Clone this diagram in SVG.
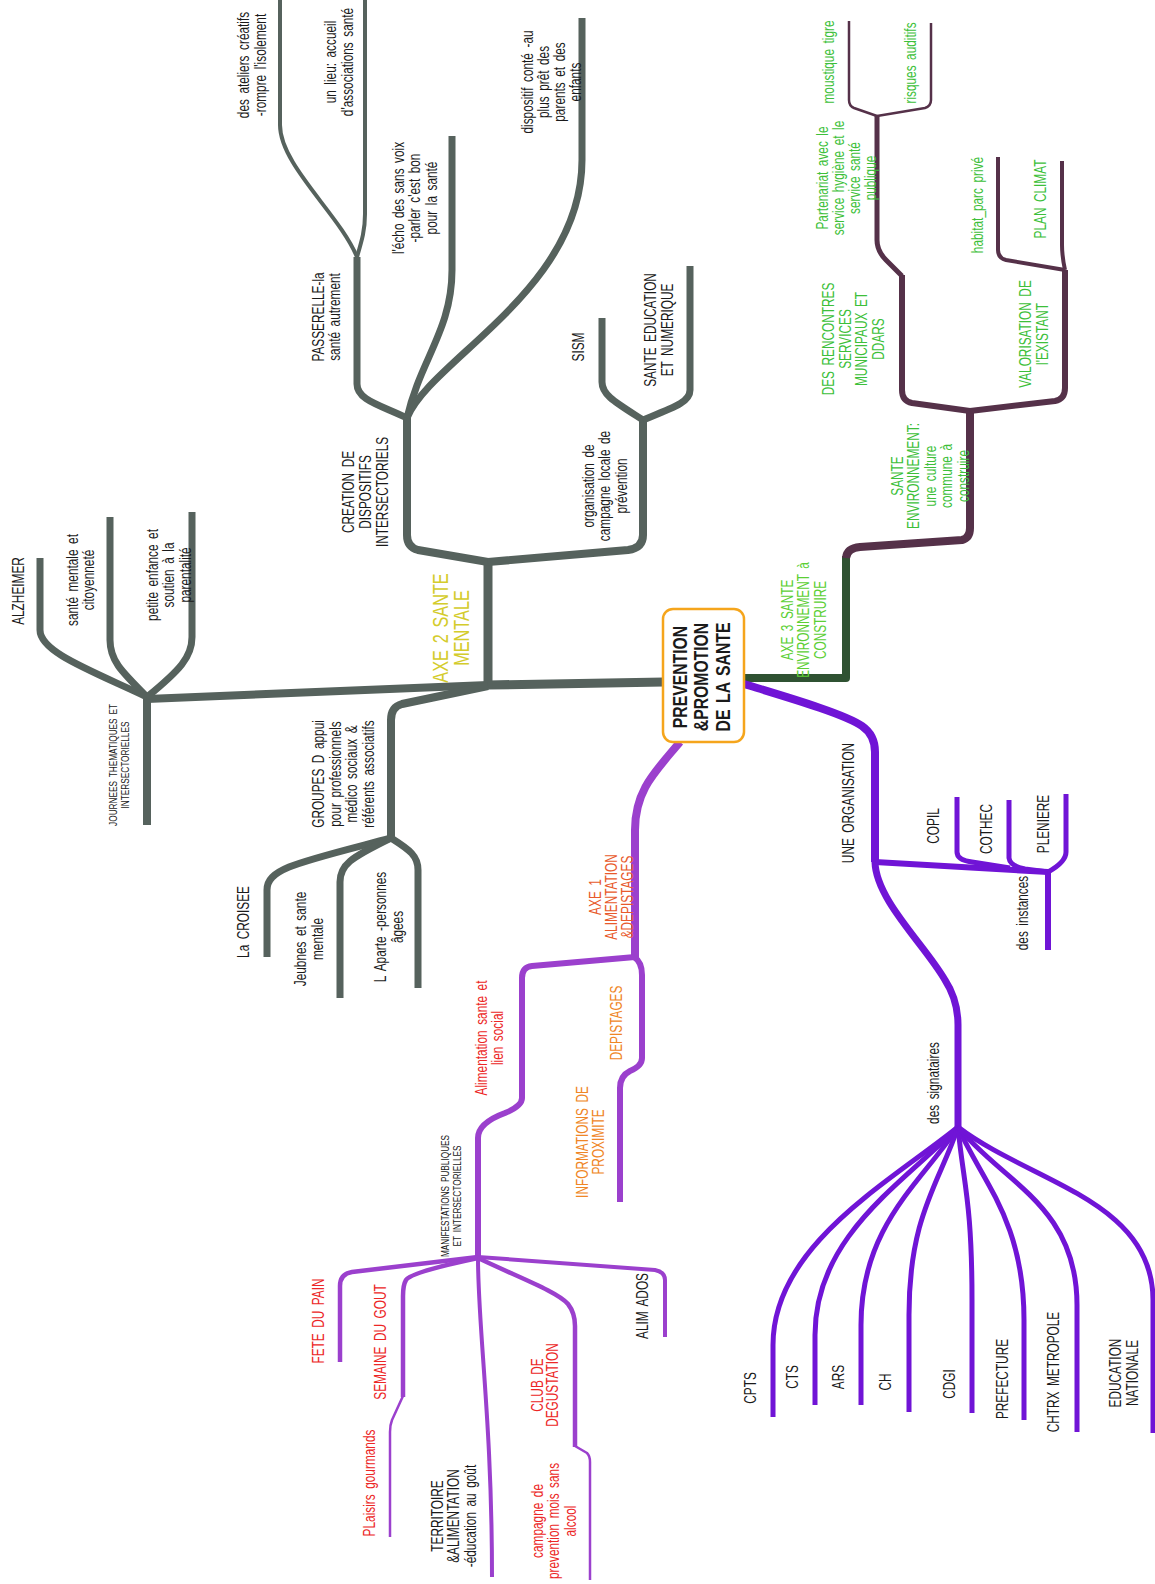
<svg xmlns="http://www.w3.org/2000/svg" width="1155" height="1584" viewBox="0 0 1155 1584">
<style>
.c{fill:none;stroke-linecap:butt;stroke-linejoin:round}
.gr{stroke:#56625d}.p1{stroke:#9b40cd}.p2{stroke:#7014d6}.mr{stroke:#553149}.dg{stroke:#2f5232}
.t{font-family:"Liberation Sans",Arial,sans-serif;font-size:16px;text-anchor:middle;word-spacing:3px}
.k{fill:#1a1a1a}.y{fill:#d4cc2c}.gn{fill:#3dbf3a}.lg{fill:#5ccf35}.r{fill:#ec2626}.o{fill:#ef8626}.or{fill:#e85a2c}
.s{font-size:11px;word-spacing:2px}.b{font-weight:bold;font-size:21px;word-spacing:3px}.a{font-size:22px}
</style>
<rect width="1155" height="1584" fill="#ffffff"/>
<g id="connectors">
<path class="c gr" stroke-width="9" d="M664,682 L488,685"/>
<path class="c gr" stroke-width="8" d="M488,685 L147,699"/>
<path class="c gr" stroke-width="9" d="M488,688 L488,558"/>
<path class="c gr" stroke-width="8" d="M488,562 L418,550 Q407,547 407,535 L407,418"/>
<path class="c gr" stroke-width="8" d="M488,562 L628,550 Q643,548 643,535 L643,420"/>
<path class="c gr" stroke-width="8" d="M488,686 L402,704 Q391,707 391,720 L391,838"/>
<path class="c gr" stroke-width="7" d="M391,838 C300,862 267,868 267,890 L267,957"/>
<path class="c gr" stroke-width="7" d="M391,838 C350,858 340,865 340,882 L340,998"/>
<path class="c gr" stroke-width="7" d="M391,838 C410,850 418,856 418,870 L418,988"/>
<path class="c gr" stroke-width="8" d="M147,697 L147,825"/>
<path class="c gr" stroke-width="7" d="M147,697 C90,670 40,652 40,630 L40,558"/>
<path class="c gr" stroke-width="7" d="M147,697 C120,670 110,660 110,640 L110,517"/>
<path class="c gr" stroke-width="7" d="M147,697 C180,670 192,657 192,637 L192,512"/>
<path class="c gr" stroke-width="7" d="M407,418 C380,405 357,400 357,384 L357,257"/>
<path class="c gr" stroke-width="4" d="M357,257 C340,215 280,165 280,125 L280,0"/>
<path class="c gr" stroke-width="4" d="M357,257 C362,240 365,230 365,214 L365,0"/>
<path class="c gr" stroke-width="7" d="M407,418 C420,360 452,330 452,270 L452,136"/>
<path class="c gr" stroke-width="7" d="M407,418 C430,360 582,290 582,160 L582,18"/>
<path class="c gr" stroke-width="7" d="M643,420 C615,402 602,395 602,382 L602,318"/>
<path class="c gr" stroke-width="7" d="M643,420 C675,407 690,402 690,390 L690,266"/>
<path class="c dg" stroke-width="8" stroke-linejoin="miter" d="M744,678 L846,678 L846,556"/>
<path class="c mr" stroke-width="8" d="M846,558 Q847,548 860,547 L962,540 Q970,538 970,528 L970,411"/>
<path class="c mr" stroke-width="6" d="M970,411 L912,403 Q902,401 902,390 L902,275"/>
<path class="c mr" stroke-width="6" d="M970,411 L1055,401 Q1065,399 1065,388 L1065,270"/>
<path class="c mr" stroke-width="5" d="M902,276 L886,260 Q877,251 877,240 L877,116"/>
<path class="c mr" stroke-width="2.5" d="M877,116 L854,108 Q849,106 849,100 L849,21"/>
<path class="c mr" stroke-width="2.5" d="M877,116 L925,108 Q931,106 931,100 L931,23"/>
<path class="c mr" stroke-width="4" d="M1065,270 L1006,260 Q998,258 998,250 L998,157"/>
<path class="c mr" stroke-width="4" d="M1065,270 Q1062,256 1062,245 L1062,161"/>
<path class="c p2" stroke-width="8" d="M744,684 C790,698 845,714 862,726 Q875,735 875,752 L875,862"/>
<path class="c p2" stroke-width="6" d="M875,862 L1048,872"/>
<path class="c p2" stroke-width="6" d="M1048,870 L1048,950"/>
<path class="c p2" stroke-width="5" d="M957,797 L957,852 Q957,860 972,862 L1010,868"/>
<path class="c p2" stroke-width="5" d="M1009,800 L1009,858 Q1010,866 1025,869 L1048,872"/>
<path class="c p2" stroke-width="5" d="M1066,794 L1066,852 Q1066,862 1048,872"/>
<path class="c p2" stroke-width="7" d="M875,862 C876,900 925,945 945,980 Q958,1000 958,1025 L958,1128"/>
<path class="c p2" stroke-width="5" d="M958,1127 C890,1182 773,1245 773,1345 L773,1417"/>
<path class="c p2" stroke-width="5" d="M958,1127 C905,1182 815,1235 815,1335 L815,1405"/>
<path class="c p2" stroke-width="5" d="M958,1127 C922,1182 861,1225 861,1325 L861,1405"/>
<path class="c p2" stroke-width="5" d="M958,1127 C940,1182 909,1215 909,1315 L909,1412"/>
<path class="c p2" stroke-width="5" d="M958,1127 C963,1182 972,1200 972,1300 L972,1413"/>
<path class="c p2" stroke-width="5" d="M958,1127 C982,1182 1024,1220 1024,1320 L1024,1420"/>
<path class="c p2" stroke-width="5" d="M958,1127 C1002,1182 1077,1205 1077,1305 L1077,1432"/>
<path class="c p2" stroke-width="5" d="M958,1127 C1030,1182 1153,1200 1153,1300 L1153,1433"/>
<path class="c p1" stroke-width="8" d="M680,742 C655,772 635,790 635,830 L635,958"/>
<path class="c p1" stroke-width="6" d="M635,957 L532,966 Q522,967 522,978 L522,1098 Q522,1106 505,1113 Q478,1123 478,1138 L478,1258"/>
<path class="c p1" stroke-width="6" d="M634,957 Q642,962 642,975 L642,1058 Q642,1066 630,1071 Q620,1076 620,1088 L620,1202"/>
<path class="c p1" stroke-width="4.5" d="M478,1257 L352,1272 Q340,1274 340,1286 L340,1362"/>
<path class="c p1" stroke-width="4.5" d="M478,1258 C440,1266 410,1274 406,1280 Q403,1285 403,1296 L403,1397"/>
<path class="c p1" stroke-width="2.5" d="M403,1396 L392,1420 Q390,1425 390,1432 L390,1537"/>
<path class="c p1" stroke-width="4" d="M478,1258 C478,1330 492,1420 492,1577"/>
<path class="c p1" stroke-width="4.5" d="M478,1258 C520,1278 558,1292 568,1304 Q575,1313 575,1326 L575,1447"/>
<path class="c p1" stroke-width="2.5" d="M575,1446 L587,1453 Q590,1456 590,1462 L590,1580"/>
<path class="c p1" stroke-width="4" d="M478,1257 L655,1270 Q665,1272 665,1280 L665,1337"/>
</g>
<g id="center">
<rect x="663" y="609" width="81" height="133" rx="10" fill="#ffffff" stroke="#f5a51c" stroke-width="2.5"/>
<g transform="translate(687,677) rotate(-90) scale(0.75,1)"><text class="t b k"><tspan x="0" y="0">PREVENTION</tspan><tspan x="0" dy="21.5">&amp;PROMOTION</tspan><tspan x="0" dy="21.5">DE LA SANTE</tspan></text></g>
</g>
<g id="axe2"><g transform="translate(448,628) rotate(-90) scale(0.74,1)"><text class="t a y"><tspan x="0" y="0">AXE 2 SANTE</tspan><tspan x="0" dy="21">MENTALE</tspan></text></g></g>
<g id="ateliers"><g transform="translate(249,65) rotate(-90) scale(0.74,1)"><text class="t k"><tspan x="0" y="0">des ateliers créatifs</tspan><tspan x="0" dy="17">-rompre l'isolement</tspan></text></g></g>
<g id="unlieu"><g transform="translate(336,62) rotate(-90) scale(0.74,1)"><text class="t k"><tspan x="0" y="0">un lieu: accueil</tspan><tspan x="0" dy="17">d'associations santé</tspan></text></g></g>
<g id="passerelle"><g transform="translate(324,317) rotate(-90) scale(0.74,1)"><text class="t k"><tspan x="0" y="0">PASSERELLE-la</tspan><tspan x="0" dy="16">santé autrement</tspan></text></g></g>
<g id="echo"><g transform="translate(404,198) rotate(-90) scale(0.74,1)"><text class="t k"><tspan x="0" y="0">l'écho des sans voix</tspan><tspan x="0" dy="16.5">-parler c'est bon</tspan><tspan x="0" dy="16.5">pour la santé</tspan></text></g></g>
<g id="dispositif"><g transform="translate(533,82) rotate(-90) scale(0.74,1)"><text class="t k"><tspan x="0" y="0">dispositif conté -au</tspan><tspan x="0" dy="16">plus prêt des</tspan><tspan x="0" dy="16">parents et des</tspan><tspan x="0" dy="16">enfants</tspan></text></g></g>
<g id="creation"><g transform="translate(354,492) rotate(-90) scale(0.74,1)"><text class="t k"><tspan x="0" y="0">CREATION DE</tspan><tspan x="0" dy="17">DISPOSITIFS</tspan><tspan x="0" dy="17">INTERSECTORIELS</tspan></text></g></g>
<g id="sism"><g transform="translate(584,347) rotate(-90) scale(0.74,1)"><text class="t k"><tspan x="0" y="0">SISM</tspan></text></g></g>
<g id="santeedu"><g transform="translate(656,330) rotate(-90) scale(0.74,1)"><text class="t k"><tspan x="0" y="0">SANTE EDUCATION</tspan><tspan x="0" dy="17">ET NUMERIQUE</tspan></text></g></g>
<g id="organisation-campagne"><g transform="translate(594,486) rotate(-90) scale(0.74,1)"><text class="t k"><tspan x="0" y="0">organisation de</tspan><tspan x="0" dy="16.5">campagne locale de</tspan><tspan x="0" dy="16.5">prévention</tspan></text></g></g>
<g id="alzheimer"><g transform="translate(24,591) rotate(-90) scale(0.74,1)"><text class="t k"><tspan x="0" y="0">ALZHEIMER</tspan></text></g></g>
<g id="citoyennete"><g transform="translate(78,580) rotate(-90) scale(0.74,1)"><text class="t k"><tspan x="0" y="0">santé mentale et</tspan><tspan x="0" dy="16.5">citoyenneté</tspan></text></g></g>
<g id="petiteenfance"><g transform="translate(158,575) rotate(-90) scale(0.74,1)"><text class="t k"><tspan x="0" y="0">petite enfance et</tspan><tspan x="0" dy="16.5">soutien à la</tspan><tspan x="0" dy="16.5">parentalité</tspan></text></g></g>
<g id="journees"><g transform="translate(117,765) rotate(-90) scale(0.75,1)"><text class="t s k"><tspan x="0" y="0">JOURNEES THEMATIQUES ET</tspan><tspan x="0" dy="12">INTERSECTORIELLES</tspan></text></g></g>
<g id="groupes"><g transform="translate(324,774) rotate(-90) scale(0.74,1)"><text class="t k"><tspan x="0" y="0">GROUPES D appui</tspan><tspan x="0" dy="16.7">pour professionnels</tspan><tspan x="0" dy="16.7">médico sociaux &amp;</tspan><tspan x="0" dy="16.7">référents associatifs</tspan></text></g></g>
<g id="croisee"><g transform="translate(249,922) rotate(-90) scale(0.74,1)"><text class="t k"><tspan x="0" y="0">La CROISEE</tspan></text></g></g>
<g id="jeubnes"><g transform="translate(306,939) rotate(-90) scale(0.74,1)"><text class="t k"><tspan x="0" y="0">Jeubnes et sante</tspan><tspan x="0" dy="17">mentale</tspan></text></g></g>
<g id="aparte"><g transform="translate(386,927) rotate(-90) scale(0.74,1)"><text class="t k"><tspan x="0" y="0">L Aparte -personnes</tspan><tspan x="0" dy="17">âgees</tspan></text></g></g>
<g id="moustique"><g transform="translate(834,62) rotate(-90) scale(0.74,1)"><text class="t gn"><tspan x="0" y="0">moustique tigre</tspan></text></g></g>
<g id="risques"><g transform="translate(916,63) rotate(-90) scale(0.74,1)"><text class="t gn"><tspan x="0" y="0">risques auditifs</tspan></text></g></g>
<g id="partenariat"><g transform="translate(828,178) rotate(-90) scale(0.74,1)"><text class="t gn"><tspan x="0" y="0">Partenariat avec le</tspan><tspan x="0" dy="16">service hygiène et le</tspan><tspan x="0" dy="16">service santé</tspan><tspan x="0" dy="16">publique</tspan></text></g></g>
<g id="habitat"><g transform="translate(983,205) rotate(-90) scale(0.74,1)"><text class="t gn"><tspan x="0" y="0">habitat_parc privé</tspan></text></g></g>
<g id="planclimat"><g transform="translate(1046,199) rotate(-90) scale(0.74,1)"><text class="t gn"><tspan x="0" y="0">PLAN CLIMAT</tspan></text></g></g>
<g id="rencontres"><g transform="translate(834,339) rotate(-90) scale(0.74,1)"><text class="t gn"><tspan x="0" y="0">DES RENCONTRES</tspan><tspan x="0" dy="16.7">SERVICES</tspan><tspan x="0" dy="16.7">MUNICIPAUX ET</tspan><tspan x="0" dy="16.7">DDARS</tspan></text></g></g>
<g id="valorisation"><g transform="translate(1031,334) rotate(-90) scale(0.74,1)"><text class="t gn"><tspan x="0" y="0">VALORISATION DE</tspan><tspan x="0" dy="17">l'EXISTANT</tspan></text></g></g>
<g id="santeenv"><g transform="translate(903,476) rotate(-90) scale(0.74,1)"><text class="t gn"><tspan x="0" y="0">SANTE</tspan><tspan x="0" dy="16.5">ENVIRONNEMENT:</tspan><tspan x="0" dy="16.5">une culture</tspan><tspan x="0" dy="16.5">commune à</tspan><tspan x="0" dy="16.5">construire</tspan></text></g></g>
<g id="axe3"><g transform="translate(793,620) rotate(-90) scale(0.74,1)"><text class="t lg"><tspan x="0" y="0">AXE 3 SANTE</tspan><tspan x="0" dy="16.5">ENVIRONNEMENT à</tspan><tspan x="0" dy="16.5">CONSTRUIRE</tspan></text></g></g>
<g id="uneorg"><g transform="translate(854,803) rotate(-90) scale(0.74,1)"><text class="t k"><tspan x="0" y="0">UNE ORGANISATION</tspan></text></g></g>
<g id="copil"><g transform="translate(939,826) rotate(-90) scale(0.74,1)"><text class="t k"><tspan x="0" y="0">COPIL</tspan></text></g></g>
<g id="cothec"><g transform="translate(992,829) rotate(-90) scale(0.74,1)"><text class="t k"><tspan x="0" y="0">COTHEC</tspan></text></g></g>
<g id="pleniere"><g transform="translate(1049,824) rotate(-90) scale(0.74,1)"><text class="t k"><tspan x="0" y="0">PLENIERE</tspan></text></g></g>
<g id="instances"><g transform="translate(1028,913) rotate(-90) scale(0.74,1)"><text class="t k"><tspan x="0" y="0">des instances</tspan></text></g></g>
<g id="signataires"><g transform="translate(939,1083) rotate(-90) scale(0.74,1)"><text class="t k"><tspan x="0" y="0">des signataires</tspan></text></g></g>
<g id="cpts"><g transform="translate(756,1388) rotate(-90) scale(0.74,1)"><text class="t k"><tspan x="0" y="0">CPTS</tspan></text></g></g>
<g id="cts"><g transform="translate(798,1377) rotate(-90) scale(0.74,1)"><text class="t k"><tspan x="0" y="0">CTS</tspan></text></g></g>
<g id="ars"><g transform="translate(844,1377) rotate(-90) scale(0.74,1)"><text class="t k"><tspan x="0" y="0">ARS</tspan></text></g></g>
<g id="ch"><g transform="translate(891,1382) rotate(-90) scale(0.74,1)"><text class="t k"><tspan x="0" y="0">CH</tspan></text></g></g>
<g id="cdgi"><g transform="translate(955,1384) rotate(-90) scale(0.74,1)"><text class="t k"><tspan x="0" y="0">CDGI</tspan></text></g></g>
<g id="prefecture"><g transform="translate(1008,1379) rotate(-90) scale(0.74,1)"><text class="t k"><tspan x="0" y="0">PREFECTURE</tspan></text></g></g>
<g id="chtrx"><g transform="translate(1059,1372) rotate(-90) scale(0.74,1)"><text class="t k"><tspan x="0" y="0">CHTRX METROPOLE</tspan></text></g></g>
<g id="education"><g transform="translate(1121,1373) rotate(-90) scale(0.74,1)"><text class="t k"><tspan x="0" y="0">EDUCATION</tspan><tspan x="0" dy="17">NATIONALE</tspan></text></g></g>
<g id="axe1"><g transform="translate(601,897) rotate(-90) scale(0.74,1)"><text class="t or"><tspan x="0" y="0">AXE 1</tspan><tspan x="0" dy="16">ALIMENTATION</tspan><tspan x="0" dy="16">&amp;DEPISTAGES</tspan></text></g></g>
<g id="alimentation"><g transform="translate(487,1038) rotate(-90) scale(0.74,1)"><text class="t r"><tspan x="0" y="0">Alimentation sante et</tspan><tspan x="0" dy="16">lien social</tspan></text></g></g>
<g id="depistages"><g transform="translate(622,1023) rotate(-90) scale(0.74,1)"><text class="t o"><tspan x="0" y="0">DEPISTAGES</tspan></text></g></g>
<g id="informations"><g transform="translate(588,1142) rotate(-90) scale(0.74,1)"><text class="t o"><tspan x="0" y="0">INFORMATIONS DE</tspan><tspan x="0" dy="16">PROXIMITE</tspan></text></g></g>
<g id="manifestations"><g transform="translate(449,1196) rotate(-90) scale(0.75,1)"><text class="t s k"><tspan x="0" y="0">MANIFESTATIONS PUBLIQUES</tspan><tspan x="0" dy="12.5">ET INTERSECTORIELLES</tspan></text></g></g>
<g id="fetedupain"><g transform="translate(324,1321) rotate(-90) scale(0.74,1)"><text class="t r"><tspan x="0" y="0">FETE DU PAIN</tspan></text></g></g>
<g id="semainedugout"><g transform="translate(386,1342) rotate(-90) scale(0.74,1)"><text class="t r"><tspan x="0" y="0">SEMAINE DU GOUT</tspan></text></g></g>
<g id="plaisirs"><g transform="translate(375,1483) rotate(-90) scale(0.74,1)"><text class="t r"><tspan x="0" y="0">PLaisirs gourmands</tspan></text></g></g>
<g id="territoire"><g transform="translate(443,1516) rotate(-90) scale(0.74,1)"><text class="t k"><tspan x="0" y="0">TERRITOIRE</tspan><tspan x="0" dy="16.5">&amp;ALIMENTATION</tspan><tspan x="0" dy="16.5">-éducation au goût</tspan></text></g></g>
<g id="club"><g transform="translate(543,1385) rotate(-90) scale(0.74,1)"><text class="t r"><tspan x="0" y="0">CLUB DE</tspan><tspan x="0" dy="15.5">DEGUSTATION</tspan></text></g></g>
<g id="campagne"><g transform="translate(543,1521) rotate(-90) scale(0.74,1)"><text class="t r"><tspan x="0" y="0">campagne de</tspan><tspan x="0" dy="16.5">prevention mois sans</tspan><tspan x="0" dy="16.5">alcool</tspan></text></g></g>
<g id="alimados"><g transform="translate(648,1306) rotate(-90) scale(0.74,1)"><text class="t k"><tspan x="0" y="0">ALIM ADOS</tspan></text></g></g>
</svg>
